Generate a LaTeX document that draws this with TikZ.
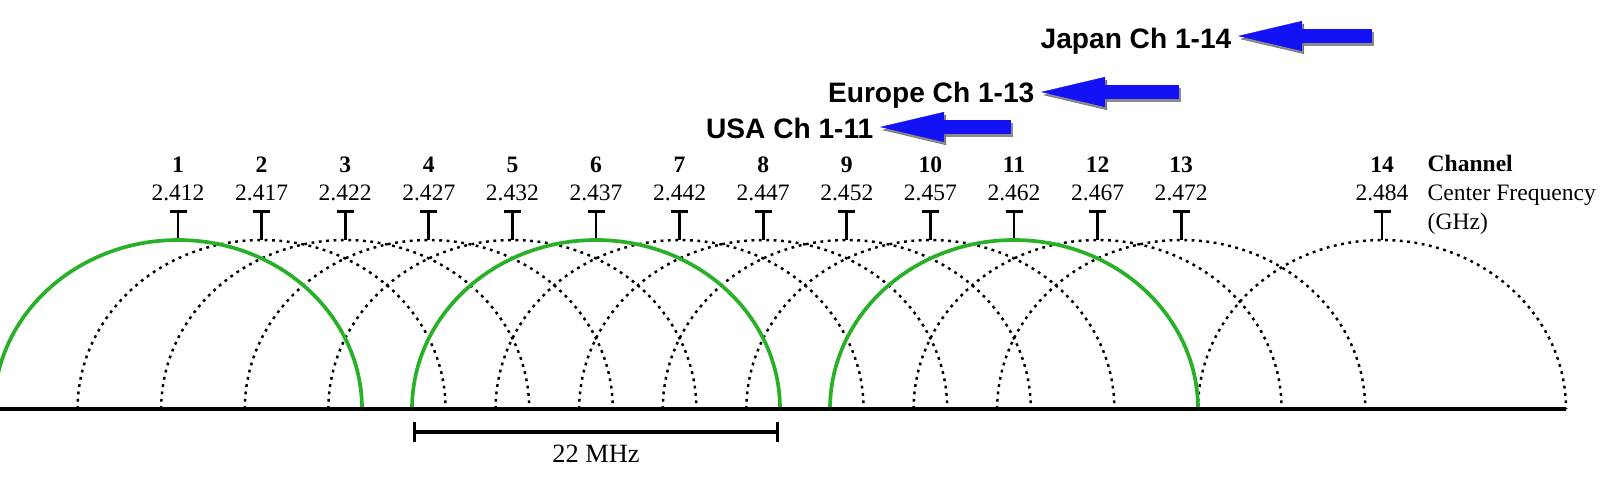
\documentclass[tikz,border=0pt]{standalone}
\usepackage{fontspec}
\setmainfont{Liberation Serif}
\newfontfamily\regionfont{Liberation Sans}
\usetikzlibrary{arrows.meta, positioning}

\definecolor{chgreen}{RGB}{40,176,40}
\definecolor{arrowblue}{RGB}{18,18,245}

\tikzset{
    freqtext/.style={font=\fontsize{6.7}{8}\selectfont, anchor=base, inner sep=0pt},
    chantext/.style={freqtext, font=\fontsize{6.7}{8}\selectfont\bfseries},
    legendtext/.style={freqtext, anchor=base west},
    regiontext/.style={font=\regionfont\bfseries\fontsize{8}{9}\selectfont, anchor=base east, inner sep=0.06cm},
    spread/.style={dash pattern=on 0.8pt off 1.3pt, line width=0.7pt},
    used/.style={chgreen, line width=1.05pt},
    axis/.style={line width=0.95pt},
    centertick/.style={line width=0.8pt, -{Bar[width=0.17cm, line width=0.8pt]}},
    widthbar/.style={line width=0.95pt, {Bar[width=0.2cm, line width=0.95pt]}-{Bar[width=0.2cm, line width=0.95pt]}},
    bluearrow/.style={arrowblue, line width=0.14cm, -{Triangle[length=0.64cm, width=0.3cm, line width=0.1pt]}},
    arrowshadow/.style={bluearrow, black, opacity=0.45, transform canvas={shift={(0.02,-0.03)}}},
}

\begin{document}
\begin{tikzpicture}
    \useasboundingbox (0,0) rectangle (16,-4.9);
    \clip (0,0) rectangle (16,-4.9);

    % Regions
    \node[regiontext] (japan) at (12.38,-0.48) {Japan Ch 1-14};
    \node[regiontext] (europe) at (10.41,-1.02) {Europe Ch 1-13};
    \node[regiontext] (usa) at (8.80,-1.38) {USA Ch 1-11};
    \coordinate (jtail) at (13.72,-0.36);
    \coordinate (etail) at (11.79,-0.92);
    \coordinate (utail) at (10.11,-1.27);
    \draw[arrowshadow] (jtail) -- (jtail -| japan.east);
    \draw[bluearrow] (jtail) -- (jtail -| japan.east);
    \draw[arrowshadow] (etail) -- (etail -| europe.east);
    \draw[bluearrow] (etail) -- (etail -| europe.east);
    \draw[arrowshadow] (utail) -- (utail -| usa.east);
    \draw[bluearrow] (utail) -- (utail -| usa.east);

    % Channels and center frequencies
    \foreach \ch/\x/\f in {1/1.78/2.412, 2/2.616/2.417, 3/3.452/2.422, 4/4.288/2.427,
        5/5.124/2.432, 6/5.96/2.437, 7/6.796/2.442, 8/7.632/2.447, 9/8.468/2.452,
        10/9.304/2.457, 11/10.14/2.462, 12/10.976/2.467, 13/11.812/2.472, 14/13.82/2.484}{
        \coordinate (top\ch) at (\x,-2.40);
        \coordinate (bar\ch) at (\x,-2.10);
        \node[chantext] (ch\ch) at (\x,-1.72) {\ch};
        \node[freqtext] (f\ch) at (\x,-2.00) {\f};
        \draw[centertick] (top\ch) -- (bar\ch);
    }
    \node[legendtext, font=\fontsize{6.7}{8}\selectfont\bfseries] (chlabel) at (14.27,-1.71) {Channel};
    \node[legendtext] (flabel) at (14.27,-2.00) {Center Frequency};
    \node[legendtext] (unitlabel) at (14.27,-2.29) {(GHz)};

    % Channel spectra
    \foreach \x in {2.616,3.452,4.288,5.124,6.796,7.632,8.468,9.304,10.976,11.812,13.82}
        \draw[spread] (\x-1.84,-4.09) arc[start angle=180, end angle=0, x radius=1.84, y radius=1.69];
    \foreach \x in {1.78,5.96,10.14}
        \draw[used] (\x-1.84,-4.09) arc[start angle=180, end angle=0, x radius=1.84, y radius=1.69];

    % Axis
    \coordinate (axisL) at (-0.1,-4.09);
    \coordinate (axisR) at (15.66,-4.09);
    \draw[axis] (axisL) -- (axisR);

    % Bandwidth
    \coordinate (bwL) at (4.13,-4.32);
    \coordinate (bwR) at (7.79,-4.32);
    \draw[widthbar] (bwL) -- (bwR);
    \node[font=\fontsize{7.5}{9}\selectfont] (bw) at (5.96,-4.54) {22 MHz};
\end{tikzpicture}
\end{document}
